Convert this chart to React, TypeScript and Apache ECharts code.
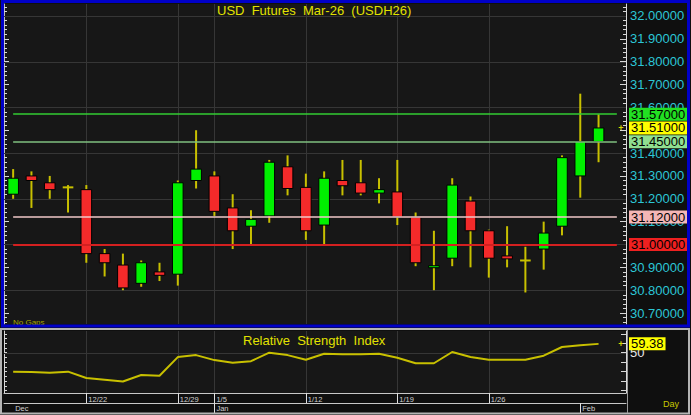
import React, { useEffect, useRef } from 'react';
import * as echarts from 'echarts';

// ---- data ----
const dates = ['12/16','12/17','12/18','12/19','12/22','12/23','12/24','12/25','12/26','12/29','12/30','1/5','1/6','1/7','1/8','1/9','1/12','1/13','1/14','1/15','1/16','1/19','1/20','1/21','1/22','1/23','1/26','1/27','1/28','1/29','1/30','2/2','2/3'];
const opens  = [31.22, 31.30, 31.27, 31.25, 31.24, 30.96, 30.91, 30.83, 30.88, 30.87, 31.28, 31.30, 31.16, 31.08, 31.125, 31.34, 31.25, 31.085, 31.28, 31.27, 31.225, 31.23, 31.12, 30.899, 30.94, 31.19, 31.06, 30.95, 30.93, 30.98, 31.08, 31.30, 31.45];
const closes = [31.29, 31.28, 31.24, 31.25, 30.96, 30.92, 30.81, 30.92, 30.865, 31.27, 31.33, 31.145, 31.06, 31.11, 31.36, 31.245, 31.06, 31.29, 31.257, 31.225, 31.24, 31.12, 30.92, 30.907, 31.26, 31.06, 30.94, 30.937, 30.93, 31.05, 31.38, 31.45, 31.51];
const highs  = [31.33, 31.32, 31.30, 31.26, 31.26, 30.98, 30.96, 30.93, 30.92, 31.28, 31.50, 31.32, 31.22, 31.15, 31.37, 31.39, 31.31, 31.32, 31.37, 31.37, 31.29, 31.37, 31.14, 31.06, 31.29, 31.21, 31.065, 31.08, 30.99, 31.10, 31.39, 31.66, 31.57];
const lows   = [31.20, 31.16, 31.20, 31.14, 30.92, 30.86, 30.80, 30.815, 30.84, 30.82, 31.245, 31.125, 30.98, 31.00, 31.095, 31.215, 31.02, 31.00, 31.215, 31.215, 31.18, 31.085, 30.905, 30.80, 30.905, 30.90, 30.855, 30.90, 30.79, 30.89, 31.04, 31.205, 31.36];
const rsi    = [30.0, 29.7, 28.9, 30.0, 23.2, 21.4, 19.6, 26.4, 25.7, 45.4, 47.5, 42.2, 39.3, 41.1, 50.1, 47.5, 42.6, 49.0, 48.3, 48.3, 49.0, 44.7, 38.9, 38.9, 50.8, 45.4, 42.6, 42.6, 42.6, 46.9, 56.1, 57.9, 59.38];

const priceTicks = [30.7, 30.8, 30.9, 31.0, 31.1, 31.2, 31.3, 31.4, 31.5, 31.6, 31.7, 31.8, 31.9, 32.0];
const priceLabels = [30.7, 30.8, 30.9, 31.1, 31.2, 31.3, 31.4, 31.6, 31.7, 31.8, 31.9, 32.0];
const priceGrid = [30.8, 31.0, 31.2, 31.4, 31.6, 31.8, 32.0];
const levelValues = [31.57, 31.45, 31.12, 31.0];
const rsiTicks = [10, 20, 30, 40, 50, 60, 70];
const rsiLabels = [50];
const rsiGrid = [50];
const weekStarts = ['12/22', '12/29', '1/5', '1/12', '1/19', '1/26'];
const monthStarts = ['12/16', '1/5', '2/2'];
const monthNames = ['Dec', 'Jan', 'Feb'];

// ---- styles ----
const FONT = '"Liberation Sans", Arial, sans-serif';
const UP = '#00f000';
const DOWN = '#f42a2a';
const WICK = '#c8c000';
const CYAN = '#2cc6d6';
const YELLOW = '#e2e200';
const GRIDLINE = '#363636';
const levelLineColors = ['#33cc33', '#80c080', '#f0c8c8', '#d42020'];
const levelLineWidths = [1.5, 1.5, 1.5, 2];
const levelTagColors = ['#22e022', '#90e090', '#f4b6b6', '#ee2020'];
const HIDDEN_LINE = { color: 'rgba(0,0,0,0)', width: 0 };

const xCategories = [...dates, ''];
const lastIdx = dates.length - 1;
const lastClose = closes[lastIdx];
const lastRsi = rsi[lastIdx];

const minorPriceTicks: number[] = [];
for (let k = 3066; k <= 3204; k += 2) minorPriceTicks.push(k / 100);
const minorRsiTicks: number[] = [];
for (let k = 10; k <= 70; k += 5) minorRsiTicks.push(k);

const candleData = dates.map((_, i) => [i, opens[i], closes[i], lows[i], highs[i]]);

const renderCandle = (params: any, api: any) => {
  const i = api.value(0);
  const o = api.value(1);
  const c = api.value(2);
  const l = api.value(3);
  const h = api.value(4);
  const pO = api.coord([i, o]);
  const pC = api.coord([i, c]);
  const pL = api.coord([i, l]);
  const pH = api.coord([i, h]);
  const band = api.size([1, 0])[0];
  const w = band * 0.58;
  const x = pO[0];
  const children: any[] = [
    { type: 'line', shape: { x1: x, y1: pH[1], x2: x, y2: pL[1] }, style: { stroke: WICK, lineWidth: 2 } },
  ];
  if (o === c) {
    children.push({ type: 'line', shape: { x1: x - w / 2, y1: pO[1], x2: x + w / 2, y2: pO[1] }, style: { stroke: WICK, lineWidth: 2 } });
  } else {
    const top = Math.min(pO[1], pC[1]);
    let hgt = Math.abs(pO[1] - pC[1]);
    if (hgt < 2) hgt = 2;
    children.push({
      type: 'rect',
      shape: { x: x - w / 2, y: top, width: w, height: hgt },
      style: { fill: c > o ? UP : DOWN, stroke: '#000', lineWidth: 1 },
    });
  }
  return { type: 'group', children };
};

// horizontal grid line at value dimension 1
const renderHGrid = (params: any, api: any) => {
  const cs = params.coordSys;
  const y = Math.round(api.coord([0, api.value(1)])[1]) + 0.5;
  return {
    type: 'group',
    children: [{ type: 'line', shape: { x1: cs.x, y1: y, x2: cs.x + cs.width, y2: y }, style: { stroke: GRIDLINE, lineWidth: 1 } }],
  };
};
// vertical grid line at category dimension 0
const renderVGrid = (params: any, api: any) => {
  const cs = params.coordSys;
  const x = Math.round(api.coord([api.value(0), api.value(1)])[0]) + 0.5;
  return {
    type: 'group',
    children: [{ type: 'line', shape: { x1: x, y1: cs.y, x2: x, y2: cs.y + cs.height }, style: { stroke: GRIDLINE, lineWidth: 1 } }],
  };
};

const tagLabel = (text: string, bg: string) => ({
  show: true,
  position: 'end',
  distance: 3,
  formatter: text,
  backgroundColor: bg,
  color: '#000',
  fontSize: 13,
  lineHeight: 13,
  padding: [0, 2, 0, 2],
  fontFamily: FONT,
});

const option: any = {
  animation: false,
  backgroundColor: '#0f0f0f',
  textStyle: { fontFamily: FONT },
  title: [
    { text: 'USD  Futures  Mar-26  (USDH26)', left: 217, top: 4, padding: 0, textStyle: { color: YELLOW, fontSize: 13, fontWeight: 'normal', fontFamily: FONT } },
    { text: 'Relative  Strength  Index', left: 243, top: 334, padding: 0, textStyle: { color: YELLOW, fontSize: 13, fontWeight: 'normal', fontFamily: FONT } },
    { text: 'No Gaps', left: 13, top: 318, padding: 0, textStyle: { color: '#a9a900', fontSize: 8, fontWeight: 'normal', fontFamily: FONT } },
    { text: 'Day', left: 663, top: 399, padding: 0, textStyle: { color: '#c8c800', fontSize: 9, fontWeight: 'normal', fontFamily: FONT } },
  ],
  grid: [
    { left: 4, right: 65, top: 4, height: 320, show: true, z: 0, backgroundColor: '#171717', borderWidth: 0 },
    { left: 4, right: 65, top: 331, height: 62, show: true, z: 0, backgroundColor: '#171717', borderWidth: 0 },
  ],
  xAxis: [
    {
      type: 'category', gridIndex: 0, data: xCategories, boundaryGap: true,
      axisLine: { show: false }, axisTick: { show: false }, axisLabel: { show: false }, splitLine: { show: false },
    },
    {
      type: 'category', gridIndex: 1, data: xCategories, boundaryGap: true, position: 'bottom',
      axisLine: { show: true, lineStyle: { color: '#c8c8c8', width: 1 } },
      axisTick: {
        show: true, alignWithLabel: true, length: 10,
        interval: (_i: number, v: string) => weekStarts.includes(v),
        lineStyle: { color: '#e0e0e0', width: 1 },
      },
      axisLabel: {
        show: true, interval: (_i: number, v: string) => weekStarts.includes(v),
        align: 'left', padding: [0, 0, 0, 2], margin: 2, fontSize: 7.5, color: '#d0d0d0',
      },
      splitLine: { show: false },
    },
    {
      type: 'category', gridIndex: 1, data: xCategories, boundaryGap: true, position: 'bottom', offset: 10,
      axisLine: { show: true, lineStyle: { color: '#c8c8c8', width: 1 } },
      axisTick: {
        show: true, alignWithLabel: true, length: 10,
        interval: (_i: number, v: string) => monthStarts.includes(v) && v !== monthStarts[0],
        lineStyle: { color: '#e0e0e0', width: 1 },
      },
      axisLabel: {
        show: true, interval: (_i: number, v: string) => monthStarts.includes(v),
        formatter: (v: string) => monthNames[monthStarts.indexOf(v)] || '',
        align: 'left', padding: [0, 0, 0, 2], margin: 1, fontSize: 7.5, color: '#d0d0d0',
      },
      splitLine: { show: false },
    },
  ],
  yAxis: [
    {
      type: 'value', gridIndex: 0, position: 'right', min: 30.652, max: 32.0525,
      axisLine: { show: true, lineStyle: { color: '#d8d8d8', width: 1 } },
      axisTick: { show: true, inside: true, length: 6, customValues: priceTicks, lineStyle: { color: '#d8d8d8' } },
      axisLabel: { show: true, customValues: priceLabels, formatter: (v: number) => v.toFixed(5), color: CYAN, fontSize: 13, margin: 4 },
      splitLine: { show: false },
    },
    {
      type: 'value', gridIndex: 0, position: 'right', min: 30.652, max: 32.0525,
      axisLine: { show: false },
      axisTick: { show: true, inside: true, length: 3, customValues: minorPriceTicks, lineStyle: { color: '#d8d8d8' } },
      axisLabel: { show: false }, splitLine: { show: false },
    },
    {
      type: 'value', gridIndex: 0, position: 'left', min: 30.652, max: 32.0525,
      axisLine: { show: true, lineStyle: { color: '#bdbdbd', width: 1 } },
      axisTick: { show: true, inside: true, length: 5, customValues: priceTicks, lineStyle: { color: '#d8d8d8' } },
      axisLabel: { show: false }, splitLine: { show: false },
    },
    {
      type: 'value', gridIndex: 0, position: 'left', min: 30.652, max: 32.0525,
      axisLine: { show: false },
      axisTick: { show: true, inside: true, length: 3, customValues: minorPriceTicks, lineStyle: { color: '#d8d8d8' } },
      axisLabel: { show: false }, splitLine: { show: false },
    },
    {
      type: 'value', gridIndex: 1, position: 'right', min: 7.4, max: 73,
      axisLine: { show: true, lineStyle: { color: '#d8d8d8', width: 1 } },
      axisTick: { show: true, inside: true, length: 5, customValues: rsiTicks, lineStyle: { color: '#d8d8d8' } },
      axisLabel: { show: true, customValues: rsiLabels, color: '#e8e8e8', fontSize: 13, margin: 4 },
      splitLine: { show: false },
    },
    {
      type: 'value', gridIndex: 1, position: 'left', min: 7.4, max: 73,
      axisLine: { show: true, lineStyle: { color: '#d8d8d8', width: 1 } },
      axisTick: { show: true, inside: true, length: 3, customValues: minorRsiTicks, lineStyle: { color: '#d8d8d8' } },
      axisLabel: { show: false }, splitLine: { show: false },
    },
  ],
  series: [
    {
      name: 'price h-grid', type: 'custom', xAxisIndex: 0, yAxisIndex: 0, z: 3, silent: true, clip: false,
      renderItem: renderHGrid, data: priceGrid.map((v) => [0, v]), encode: { x: 0, y: 1 },
    },
    {
      name: 'price v-grid', type: 'custom', xAxisIndex: 0, yAxisIndex: 0, z: 3, silent: true, clip: false,
      renderItem: renderVGrid, data: weekStarts.map((d) => [dates.indexOf(d), priceGrid[0]]), encode: { x: 0, y: 1 },
    },
    {
      name: 'rsi h-grid', type: 'custom', xAxisIndex: 1, yAxisIndex: 4, z: 3, silent: true, clip: false,
      renderItem: renderHGrid, data: rsiGrid.map((v) => [0, v]), encode: { x: 0, y: 1 },
    },
    {
      name: 'rsi v-grid', type: 'custom', xAxisIndex: 1, yAxisIndex: 4, z: 3, silent: true, clip: false,
      renderItem: renderVGrid, data: weekStarts.map((d) => [dates.indexOf(d), rsiGrid[0]]), encode: { x: 0, y: 1 },
    },
    {
      name: 'USDH26', type: 'custom', xAxisIndex: 0, yAxisIndex: 0, z: 4,
      renderItem: renderCandle, data: candleData, encode: { x: 0, y: [1, 2, 3, 4] }, clip: false,
      markLine: {
        silent: true, symbol: 'none', z: 5,
        data: [
          ...levelValues.map((v, k) => [
            { coord: [0, v], lineStyle: { color: levelLineColors[k], width: levelLineWidths[k], type: 'solid' }, label: { show: false } },
            { coord: [xCategories.length - 1, v] },
          ]),
          ...levelValues.map((v, k) => ({
            yAxis: v, lineStyle: HIDDEN_LINE, label: tagLabel(v.toFixed(5), levelTagColors[k]),
          })),
          { yAxis: lastClose, lineStyle: HIDDEN_LINE, label: tagLabel(lastClose.toFixed(5), '#ffff00') },
        ],
      },
      markPoint: {
        silent: true, symbol: 'circle', symbolSize: 0,
        data: [{ coord: [xCategories.length - 1, lastClose], label: { show: true, formatter: '+', color: '#d8d800', fontSize: 9, fontWeight: 'bold', offset: [4, 0] } }],
      },
    },
    {
      name: 'RSI', type: 'line', xAxisIndex: 1, yAxisIndex: 4, data: rsi, z: 4,
      symbol: 'none', lineStyle: { color: '#c8c000', width: 2 },
      markLine: {
        silent: true, symbol: 'none', z: 6,
        data: [{ yAxis: lastRsi, lineStyle: HIDDEN_LINE, label: tagLabel(lastRsi.toFixed(2), '#ffff00') }],
      },
      markPoint: {
        silent: true, symbol: 'circle', symbolSize: 0,
        data: [{ coord: [xCategories.length - 1, lastRsi], label: { show: true, formatter: '+', color: '#d8d800', fontSize: 9, fontWeight: 'bold', offset: [4, 0] } }],
      },
    },
  ],
  graphic: [
    { type: 'rect', silent: true, z: 100, shape: { x: 2.5, y: 1.5, width: 686, height: 324.5 }, style: { fill: 'none', stroke: '#0000c8', lineWidth: 3 } },
    { type: 'rect', silent: true, z: 100, shape: { x: 1, y: 329, width: 688, height: 84.5 }, style: { fill: 'none', stroke: '#b4b4b4', lineWidth: 2 } },
    { type: 'line', silent: true, z: 100, shape: { x1: 627.5, y1: 330, x2: 627.5, y2: 413 }, style: { stroke: '#9a9a9a', lineWidth: 1 } },
  ],
};

export default function App() {
  const ref = useRef<HTMLDivElement>(null);
  useEffect(() => {
    if (!ref.current) return;
    const chart = echarts.init(ref.current, null, { renderer: 'svg' });
    chart.setOption(option);
    return () => chart.dispose();
  }, []);
  return <div ref={ref} style={{ position: 'fixed', left: 0, top: 0, width: 691, height: 415 }} />;
}
